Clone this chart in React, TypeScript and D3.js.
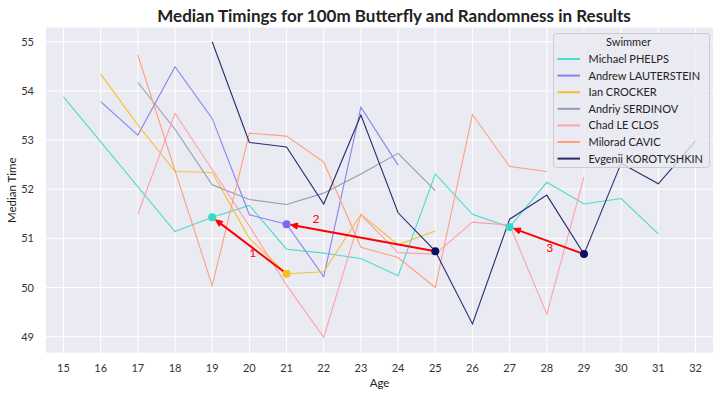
import React from 'react';
import * as d3 from 'd3';

// chart size (matches the target window)
const W = 721;
const H = 396;
const plot = {left: 46, right: 713, top: 27.7, bottom: 352.7};

const swimmers = ['Michael PHELPS', 'Andrew LAUTERSTEIN', 'Ian CROCKER', 'Andriy SERDINOV', 'Chad LE CLOS', 'Milorad CAVIC', 'Evgenii KOROTYSHKIN'];
const lineColors = ['#48dccf', '#8a80f0', '#f2c232', '#919eb4', '#ffa1a9', '#ffa07a', '#29296f'];
const dotColors = ['#35d9c8', '#7b6cee', '#f4c21a', '#7a8899', '#ff8f9a', '#ff9060', '#0d0d5c'];

// ages and median times per swimmer
const phelpsAges = [15, 18, 19, 20, 21, 22, 23, 24, 25, 26, 27, 28, 29, 30, 31];
const phelpsTimes = [53.88, 51.14, 51.43, 51.67, 50.78, 50.70, 50.59, 50.24, 52.31, 51.49, 51.23, 52.14, 51.70, 51.81, 51.09];
const lautersteinAges = [16, 17, 18, 19, 20, 21, 22, 23, 24];
const lautersteinTimes = [53.78, 53.10, 54.49, 53.44, 51.48, 51.29, 50.22, 53.67, 52.49];
const crockerAges = [16, 17, 18, 19, 20, 21, 22, 23, 24, 25];
const crockerTimes = [54.34, 53.31, 52.36, 52.34, 51.00, 50.28, 50.32, 51.49, 50.87, 51.15];
const serdinovAges = [17, 18, 19, 20, 21, 22, 23, 24, 25];
const serdinovTimes = [54.17, 53.22, 52.09, 51.79, 51.69, 51.92, 52.31, 52.73, 51.97];
const leClosAges = [17, 18, 19, 20, 21, 22, 23, 24, 25, 26, 27, 28, 29];
const leClosTimes = [51.49, 53.54, 52.40, 51.25, 50.05, 48.99, 51.48, 50.71, 50.68, 51.33, 51.27, 49.46, 52.25];
const cavicAges = [17, 18, 19, 20, 21, 22, 23, 24, 25, 26, 27, 28];
const cavicTimes = [54.73, 52.38, 50.04, 53.14, 53.08, 52.55, 50.82, 50.61, 50.00, 53.52, 52.46, 52.36];
const korotAges = [19, 20, 21, 22, 23, 24, 25, 26, 27, 28, 29, 30, 31, 32];
const korotTimes = [55.0, 52.95, 52.86, 51.70, 53.51, 51.52, 50.74, 49.26, 51.39, 51.88, 50.68, 52.53, 52.11, 52.98];

const allAges = [phelpsAges, lautersteinAges, crockerAges, serdinovAges, leClosAges, cavicAges, korotAges];
const allTimes = [phelpsTimes, lautersteinTimes, crockerTimes, serdinovTimes, leClosTimes, cavicTimes, korotTimes];

// annotated jumps: from (swimmer, age) -> to (swimmer, age)
const arrowFromSwimmer = [2, 6, 6];
const arrowFromAge = [21, 25, 29];
const arrowToSwimmer = [0, 1, 0];
const arrowToAge = [19, 21, 27];
const arrowLabels = ['1', '2', '3'];
const labelAges = [20.09, 21.79, 28.08];
const labelTimes = [50.71, 51.39, 50.81];

const xTicks = d3.range(15, 33);
const yTicks = [49, 50, 51, 52, 53, 54, 55];

const x = d3.scaleLinear().domain([14.53, 32.47]).range([plot.left, plot.right]);
const y = d3.scaleLinear().domain([48.675, 55.285]).range([plot.bottom, plot.top]);

function timeAt(s: number, age: number) {
    return allTimes[s][allAges[s].indexOf(age)];
}

const App = () => {
    const line = d3.line<[number, number]>().x(d => x(d[0])).y(d => y(d[1]));
    const font = 'Lato, "DejaVu Sans", sans-serif';

    // legend geometry
    const lg = {x: 553.5, y: 33.5, w: 156, h: 134};

    return (
        <svg width={W} height={H} style={{position: 'absolute', left: 0, top: 0}} fontFamily={font}>
            <rect width={W} height={H} fill="#ffffff"/>
            <rect x={plot.left} y={plot.top} width={plot.right - plot.left} height={plot.bottom - plot.top} fill="#eaeaf2"/>

            {/* grid */}
            {xTicks.map(t => <line key={'gx' + t} x1={x(t)} x2={x(t)} y1={plot.top} y2={plot.bottom} stroke="#fff" strokeWidth={1}/>)}
            {yTicks.map(t => <line key={'gy' + t} x1={plot.left} x2={plot.right} y1={y(t)} y2={y(t)} stroke="#fff" strokeWidth={1}/>)}

            {/* tick labels */}
            {xTicks.map(t => <text key={'tx' + t} x={x(t)} y={372} textAnchor="middle" fontSize={11} fill="#333">{t}</text>)}
            {yTicks.map(t => <text key={'ty' + t} x={34} y={y(t) + 4} textAnchor="end" fontSize={11} fill="#333">{t}</text>)}

            <text x={(plot.left + plot.right) / 2} y={387} textAnchor="middle" fontSize={11.5} fill="#222">Age</text>
            <text transform={`translate(16,${(plot.top + plot.bottom) / 2}) rotate(-90)`} textAnchor="middle" fontSize={11.5} fill="#222">Median Time</text>
            <text x={394} y={22} textAnchor="middle" fontSize={17} fontWeight="bold" fill="#222">Median Timings for 100m Butterfly and Randomness in Results</text>

            {/* swimmer lines */}
            {swimmers.map((s, i) => (
                <path key={s} d={line(allAges[i].map((a, j) => [a, allTimes[i][j]] as [number, number])) || ''}
                      fill="none" stroke={lineColors[i]} strokeWidth={1.1}/>
            ))}

            {/* arrows */}
            {arrowLabels.map((lab, i) => {
                const x1 = x(arrowFromAge[i]);
                const y1 = y(timeAt(arrowFromSwimmer[i], arrowFromAge[i]));
                const x2 = x(arrowToAge[i]);
                const y2 = y(timeAt(arrowToSwimmer[i], arrowToAge[i]));
                const ang = Math.atan2(y2 - y1, x2 - x1);
                const tipX = x2 - Math.cos(ang) * 4;
                const tipY = y2 - Math.sin(ang) * 4;
                const hl = 7, hw = 3;
                const bx = tipX - Math.cos(ang) * hl;
                const by = tipY - Math.sin(ang) * hl;
                const px = -Math.sin(ang) * hw, py = Math.cos(ang) * hw;
                return (
                    <g key={'arr' + i}>
                        <line x1={x1} y1={y1} x2={bx} y2={by} stroke="#ff0000" strokeWidth={2}/>
                        <polygon points={`${tipX},${tipY} ${bx + px},${by + py} ${bx - px},${by - py}`} fill="#ff0000" stroke="#ff0000" strokeWidth={1}/>
                        <text x={x(labelAges[i])} y={y(labelTimes[i]) + 4} textAnchor="middle" fontSize={12} fill="#ff0000">{lab}</text>
                    </g>
                );
            })}

            {/* highlighted points */}
            {arrowLabels.map((lab, i) => (
                <g key={'pts' + i}>
                    <circle cx={x(arrowFromAge[i])} cy={y(timeAt(arrowFromSwimmer[i], arrowFromAge[i]))} r={4} fill={dotColors[arrowFromSwimmer[i]]}/>
                    <circle cx={x(arrowToAge[i])} cy={y(timeAt(arrowToSwimmer[i], arrowToAge[i]))} r={4} fill={dotColors[arrowToSwimmer[i]]}/>
                </g>
            ))}

            {/* legend */}
            <rect x={lg.x} y={lg.y} width={lg.w} height={lg.h} rx={3} fill="#eaeaf2" fillOpacity={0.8} stroke="#cccccc" strokeWidth={1}/>
            <text x={lg.x + lg.w / 2 - 3} y={46} textAnchor="middle" fontSize={11} fill="#222">Swimmer</text>
            {swimmers.map((s, i) => (
                <g key={'lg' + s} transform={`translate(0,${59 + i * 16.6})`}>
                    <line x1={557.5} x2={580} y1={0} y2={0} stroke={lineColors[i]} strokeWidth={2}/>
                    <text x={588.5} y={4} fontSize={11} fill="#222">{s}</text>
                </g>
            ))}
        </svg>
    );
};

export default App;
